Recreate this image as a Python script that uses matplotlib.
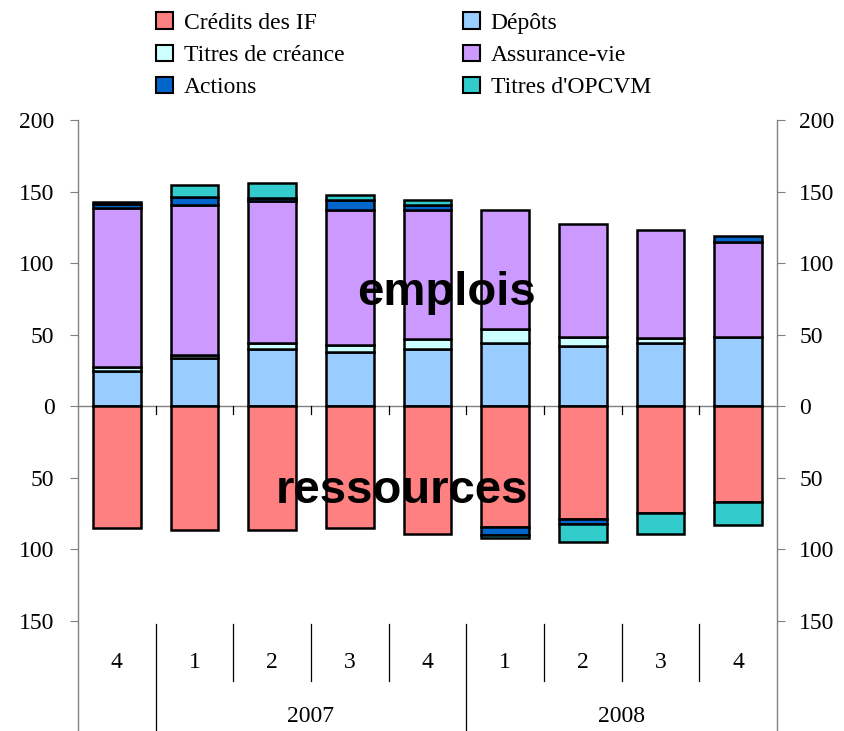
import numpy as np
import matplotlib.pyplot as plt
from matplotlib.patches import Patch
from matplotlib.transforms import blended_transform_factory
from matplotlib.ticker import FuncFormatter, MultipleLocator

# quarters 2006 Q4 -> 2008 Q4
quarters = ["4", "1", "2", "3", "4", "1", "2", "3", "4"]
years = ["2007", "2008"]

# emplois (positive)
depots = [24.6, 33.9, 40.2, 38.1, 40.2, 44.4, 42.1, 44.4, 48.4]
titres_creance = [3.0, 2.0, 4.2, 4.5, 6.6, 9.9, 6.3, 3.5, 0.0]
assurance_vie = [111.0, 104.5, 98.8, 94.7, 90.0, 83.0, 79.1, 75.4, 66.2]
actions_emp = [3.0, 6.0, 2.5, 6.5, 4.0, 0.0, 0.0, 0.0, 4.7]
opcvm_emp = [0.8, 8.0, 10.0, 4.0, 3.0, 0.0, 0.0, 0.0, 0.0]

# ressources (negative)
credits = [-84.9, -86.5, -86.5, -84.9, -88.9, -84.2, -78.4, -74.4, -66.7]
actions_res = [0.0, 0.0, 0.0, 0.0, 0.0, -5.8, -4.0, 0.0, 0.0]
opcvm_res = [0.0, 0.0, 0.0, 0.0, 0.0, -1.8, -12.3, -15.0, -16.3]

col_credits = "#FF8080"
col_depots = "#99CCFF"
col_tdc = "#CCFFFF"
col_av = "#CC99FF"
col_actions = "#0066CC"
col_opcvm = "#33CCCC"

plt.rcParams["font.family"] = ["Liberation Serif", "DejaVu Serif"]

fig = plt.figure(figsize=(8.44, 7.31), dpi=100)
ax = fig.add_axes([78 / 844, 1 - 621 / 731, 699 / 844, 501 / 731])

x = np.arange(len(quarters))
w = 0.61
kw = dict(width=w, edgecolor="black", linewidth=1.8, zorder=3)

# positive stack
bottom = np.zeros(len(x))
for vals, c in [(depots, col_depots), (titres_creance, col_tdc), (assurance_vie, col_av),
                (actions_emp, col_actions), (opcvm_emp, col_opcvm)]:
    v = np.array(vals)
    m = v > 0
    ax.bar(x[m], v[m], bottom=bottom[m], color=c, **kw)
    bottom += v

# negative stack
bottom = np.zeros(len(x))
for vals, c in [(credits, col_credits), (actions_res, col_actions), (opcvm_res, col_opcvm)]:
    v = np.array(vals)
    m = v < 0
    ax.bar(x[m], v[m], bottom=bottom[m], color=c, **kw)
    bottom += v

ax.set_xlim(-0.5, len(x) - 0.5)
ax.set_ylim(-150, 200)

fmt = FuncFormatter(lambda v, p: f"{abs(v):.0f}")
ax.yaxis.set_major_locator(MultipleLocator(50))
ax.yaxis.set_major_formatter(fmt)
ax.tick_params(axis="y", direction="out", length=6, width=0.8, color="#808080",
               labelsize=17, pad=11)

ax2 = ax.twinx()
ax2.set_ylim(-150, 200)
ax2.yaxis.set_major_locator(MultipleLocator(50))
ax2.yaxis.set_major_formatter(fmt)
ax2.tick_params(axis="y", direction="out", length=6, width=0.8, color="#808080",
                labelsize=17, pad=10)

for a in (ax, ax2):
    for s in ("top", "left", "right", "bottom"):
        a.spines[s].set_visible(False)

# zero line with small ticks between bars
ax.axhline(0, color="#808080", linewidth=1.0, zorder=2)
ax.set_xticks([])
trans = blended_transform_factory(ax.transData, ax.transAxes)
zero_ax = 150 / 350
for b in np.arange(0.5, len(x) - 0.5, 1.0):
    ax.plot([b, b], [zero_ax, zero_ax - 8 / 501], transform=trans, color="black",
            linewidth=0.9, clip_on=False, zorder=2)

# frame lines and category separators
bot = -110 / 501
for xx in (-0.5, len(x) - 0.5):
    ax.plot([xx, xx], [1, bot], transform=trans, color="#808080", linewidth=1.0, clip_on=False)
for b in [0.5, 4.5]:
    ax.plot([b, b], [-3 / 501, bot], transform=trans, color="black", linewidth=0.9, clip_on=False)
for b in [1.5, 2.5, 3.5, 5.5, 6.5, 7.5]:
    ax.plot([b, b], [-3 / 501, -60 / 501], transform=trans, color="black", linewidth=0.9,
            clip_on=False)

for i, q in enumerate(quarters):
    ax.text(i, -42 / 501, q, transform=trans, ha="center", va="center", fontsize=17)
ax.text(2.5, -95 / 501, years[0], transform=trans, ha="center", va="center", fontsize=17)
ax.text(6.5, -95 / 501, years[1], transform=trans, ha="center", va="center", fontsize=17)

# labels inside the plot
ax.text(4.25, 79, "emplois", ha="center", va="center", fontsize=34, fontweight="bold",
        family="Liberation Sans", zorder=5)
ax.text(3.67, -59, "ressources", ha="center", va="center", fontsize=34, fontweight="bold",
        family="Liberation Sans", zorder=5)

# legend filled column by column, so order for rows: left col then right col
labels = ["Crédits des IF", "Titres de créance", "Actions",
          "Dépôts", "Assurance-vie", "Titres d'OPCVM"]
colors = [col_credits, col_tdc, col_actions, col_depots, col_av, col_opcvm]
handles = [Patch(facecolor=c, edgecolor="black", linewidth=1.5) for c in colors]
fig.legend(handles, labels, ncol=2, loc="upper left", bbox_to_anchor=(147 / 844, 1 - 3 / 731),
           frameon=False, fontsize=17, handlelength=0.7, handleheight=0.7,
           handletextpad=0.45, labelspacing=0.45, columnspacing=5.05, borderaxespad=0)

fig.savefig("out.png", dpi=100)
